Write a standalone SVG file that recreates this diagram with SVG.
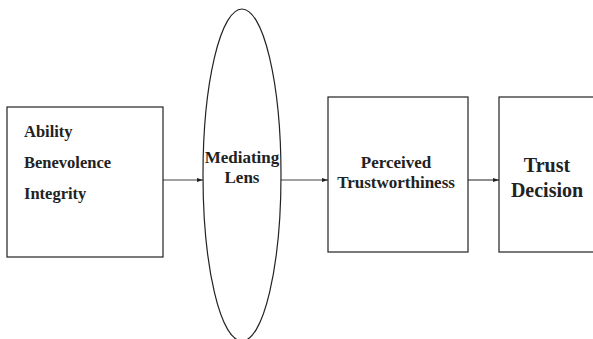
<svg xmlns="http://www.w3.org/2000/svg" width="593" height="339" viewBox="0 0 593 339">
<style>
.box{fill:#fff;stroke:#222;stroke-width:1.2}
.t{font-family:"Liberation Serif","Times New Roman",serif;font-weight:bold;fill:#222}
.c{stroke:#444;stroke-width:1.2;fill:none}
</style>
<defs>
<marker id="ah" viewBox="0 0 10 10" refX="10" refY="5" markerWidth="6" markerHeight="6" orient="auto" markerUnits="userSpaceOnUse">
<path d="M0,1.5 L10,5 L0,8.5 z" fill="#222"/>
</marker>
</defs>
<rect width="593" height="339" fill="#fff"/>
<g id="connectors">
<line class="c" x1="163" y1="180" x2="203" y2="180" marker-end="url(#ah)"/>
<line class="c" x1="281" y1="180" x2="328" y2="180" marker-end="url(#ah)"/>
<line class="c" x1="468" y1="180" x2="499" y2="180" marker-end="url(#ah)"/>
</g>
<g id="factors">
<rect class="box" x="7" y="107" width="156" height="150"/>
<text class="t" x="24" y="137" font-size="16.5">Ability</text>
<text class="t" x="24" y="168" font-size="16.5">Benevolence</text>
<text class="t" x="24" y="199" font-size="16.5">Integrity</text>
</g>
<g id="lens">
<ellipse class="box" cx="242" cy="175" rx="39" ry="166"/>
<text class="t" x="242" y="163" font-size="17" text-anchor="middle">Mediating</text>
<text class="t" x="242" y="183" font-size="17" text-anchor="middle">Lens</text>
</g>
<g id="perceived">
<rect class="box" x="328" y="97" width="140" height="155"/>
<text class="t" x="396" y="168" font-size="17" text-anchor="middle">Perceived</text>
<text class="t" x="396" y="188" font-size="17" text-anchor="middle">Trustworthiness</text>
</g>
<g id="decision">
<rect class="box" x="499" y="97" width="120" height="155"/>
<text class="t" x="547" y="172" font-size="20" text-anchor="middle">Trust</text>
<text class="t" x="547" y="197" font-size="20" text-anchor="middle">Decision</text>
</g>
</svg>
